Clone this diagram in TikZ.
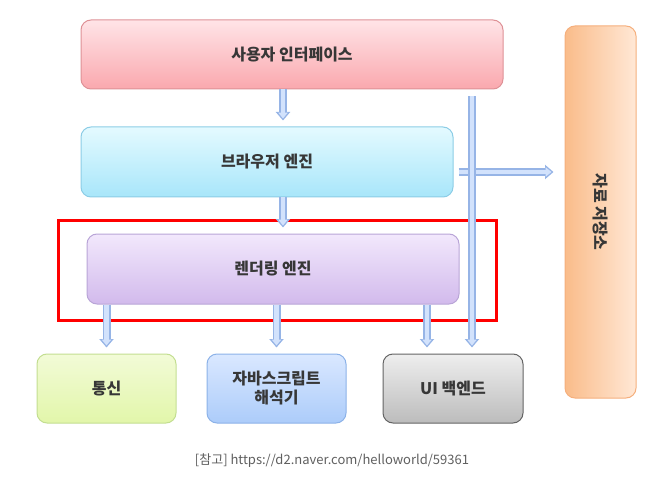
\documentclass[tikz,border=0pt]{standalone}
\usepackage{fontspec}
\setmainfont{Noto Sans CJK KR}
\usetikzlibrary{arrows.meta,shapes}
\definecolor{textgray}{RGB}{55,55,55}
\definecolor{capgray}{RGB}{95,95,95}
\definecolor{flowedge}{RGB}{150,180,230}
\definecolor{flowfill}{RGB}{210,226,252}
\begin{document}
\begin{tikzpicture}[x=1pt, y=-1pt]
      % page is 660 x 486, one unit per pixel
      \useasboundingbox (0,0) rectangle (660,486);
      \tikzstyle{box} = [rectangle, draw, rounded corners=10pt, line width=1pt, text centered, align=center,
                         font=\fontsize{16}{19}\selectfont\bfseries, text=textgray, inner sep=0pt]
      \tikzstyle{flow} = [draw=flowedge, line width=8pt, -{Triangle[length=8.5pt,width=14pt]},
                          postaction={draw=flowfill, line width=4.6pt, shorten >=2pt, -{Triangle[length=5.8pt,width=9pt]}}]
        \node [box, minimum width=422, minimum height=69, draw={rgb,255:red,222;green,145;blue,150},
               top color={rgb,255:red,255;green,228;blue,231}, bottom color={rgb,255:red,250;green,168;blue,174}]
               (ui) at (292,54.5) {사용자 인터페이스};
        \node [box, minimum width=372, minimum height=70, draw={rgb,255:red,140;green,205;blue,230},
               top color={rgb,255:red,228;green,250;blue,255}, bottom color={rgb,255:red,168;green,230;blue,250}]
               (browser) at (267,162) {브라우저 엔진};
        \node [box, minimum width=372, minimum height=70, draw={rgb,255:red,185;green,165;blue,215},
               top color={rgb,255:red,242;green,232;blue,252}, bottom color={rgb,255:red,210;green,186;blue,236}]
               (render) at (273,269) {렌더링 엔진};
        \node [box, minimum width=139, minimum height=69, draw={rgb,255:red,195;green,222;blue,145},
               top color={rgb,255:red,242;green,251;blue,215}, bottom color={rgb,255:red,226;green,246;blue,170}]
               (net) at (106.5,388.5) {통신};
        \node [box, minimum width=139, minimum height=69, draw={rgb,255:red,140;green,178;blue,232},
               top color={rgb,255:red,218;green,232;blue,255}, bottom color={rgb,255:red,172;green,204;blue,250}]
               (js) at (276.5,388.5) {자바스크립트\\해석기};
        \node [box, minimum width=140, minimum height=69, draw={rgb,255:red,100;green,100;blue,100},
               top color={rgb,255:red,238;green,238;blue,238}, bottom color={rgb,255:red,188;green,188;blue,188}]
               (uib) at (453,388.5) {UI 백엔드};
        \node [box, minimum width=71, minimum height=372, draw={rgb,255:red,245;green,175;blue,125},
               left color={rgb,255:red,250;green,188;blue,138}, right color={rgb,255:red,255;green,232;blue,214}]
               (store) at (600.5,212) {};
        \node [rotate=-90, font=\fontsize{16}{19}\selectfont\bfseries, text=textgray] (storelabel) at (store.center) {자료 저장소};
        % rendering engine is marked
        \node [draw=red, line width=3pt, minimum width=438, minimum height=100, inner sep=0pt] (mark) at (277,270) {};
        \coordinate (spine) at (283,0);
        \coordinate (bus) at (472,0);
        \path [flow] (ui.south -| spine) -- ([yshift=6]browser.north -| spine);
        \path [flow] (browser.south -| spine) -- ([yshift=6]render.north -| spine);
        \path [flow] ([yshift=-10]browser.east) ++(5,0) -- ([xshift=-11,yshift=-10]browser.east -| store.west);
        \path [flow] ([yshift=-7]ui.south -| bus) -- ([yshift=6]uib.north -| bus);
        \path [flow] (render.south -| net) -- ([yshift=6]net.north);
        \path [flow] (render.south -| js) -- ([yshift=6]js.north);
        \path [flow] (render.south -| 427,0) -- ([yshift=6]uib.north -| 427,0);
        \node [font=\fontsize{13}{15}\selectfont, text=capgray] (source) at (332,461) {[참고] https://d2.naver.com/helloworld/59361};
      \end{tikzpicture}
\end{document}
